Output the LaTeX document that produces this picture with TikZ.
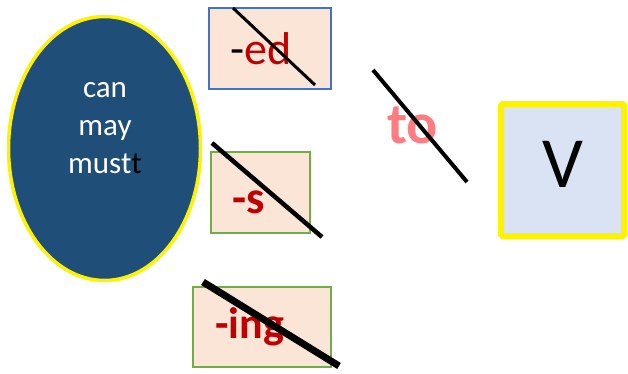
\documentclass[tikz,border=0pt]{standalone}
\usepackage{fontspec}
\setmainfont{Carlito}
\usetikzlibrary{positioning,shapes.geometric}
\definecolor{modalblue}{HTML}{1F4E79}
\definecolor{peach}{HTML}{FBE5D6}
\definecolor{edgeblue}{HTML}{4472C4}
\definecolor{edgegreen}{HTML}{70AD47}
\definecolor{darkred}{HTML}{C00000}
\definecolor{pink}{HTML}{FF7C80}
\definecolor{paleblue}{HTML}{DAE3F3}

\begin{document}
\begin{tikzpicture}[x=1pt, y=-1pt,
        modal/.style={ellipse, draw=yellow, line width=3.5pt, fill=modalblue, minimum width=192pt, minimum height=264pt, inner sep=0pt},
        suffix/.style={rectangle, draw=edgegreen, line width=1.5pt, fill=peach, inner sep=0pt},
        verb/.style={rectangle, draw=yellow, line width=6pt, fill=paleblue, rounded corners=1.5pt, minimum width=123pt, minimum height=132pt, inner sep=0pt},
        strike/.style={draw=black, line cap=butt}
    ]
    \useasboundingbox (0,0) rectangle (628,374);

    % Modal verbs
    \node[modal] (modals) at (104.5,148.5) {};
    \node[align=center, text=white, font=\fontsize{31}{37.8}\selectfont] (modaltxt) at (105,128) {can\\may\\must\textcolor{black}{t}};

    % Endings
    \node[suffix, draw=edgeblue, minimum width=122pt, minimum height=81pt] (ed) at (270,48.5) {};
    \node[anchor=base, font=\fontsize{46}{50}\selectfont] (edtxt) at (261,65) {-\textcolor{darkred}{ed}};
    \node[suffix, minimum width=99pt, minimum height=81pt] (s) at (260.5,192.5) {};
    \node[anchor=base, text=darkred, font=\fontsize{46}{50}\selectfont\bfseries] (stxt) at (249,213) {-s};
    \node[suffix, minimum width=138pt, minimum height=80pt] (ing) at (262,327) {};
    \node[anchor=base, text=darkred, font=\fontsize{44}{50}\selectfont\bfseries] (ingtxt) at (249.5,338) {-ing};

    % to + V
    \node[anchor=base, text=pink, font=\fontsize{58}{64}\selectfont\bfseries] (to) at (412.5,144) {to};
    \node[verb] (V) at (562.5,170) {};
    \node[anchor=base, font=\fontsize{72}{80}\selectfont] (Vtxt) at (563,187) {V};

    % Crossing-out lines
    \coordinate (edA) at (233,8);   \coordinate (edB) at (315,85);
    \coordinate (sA) at (212,143);  \coordinate (sB) at (322,237);
    \coordinate (ingA) at (203,282); \coordinate (ingB) at (339,366);
    \coordinate (toA) at (373,70);  \coordinate (toB) at (467,182);
    \draw[strike, line width=3pt] (edA) -- (edB);
    \draw[strike, line width=4.5pt] (sA) -- (sB);
    \draw[strike, line width=7pt] (ingA) -- (ingB);
    \draw[strike, line width=4pt] (toA) -- (toB);

\end{tikzpicture}
\end{document}
